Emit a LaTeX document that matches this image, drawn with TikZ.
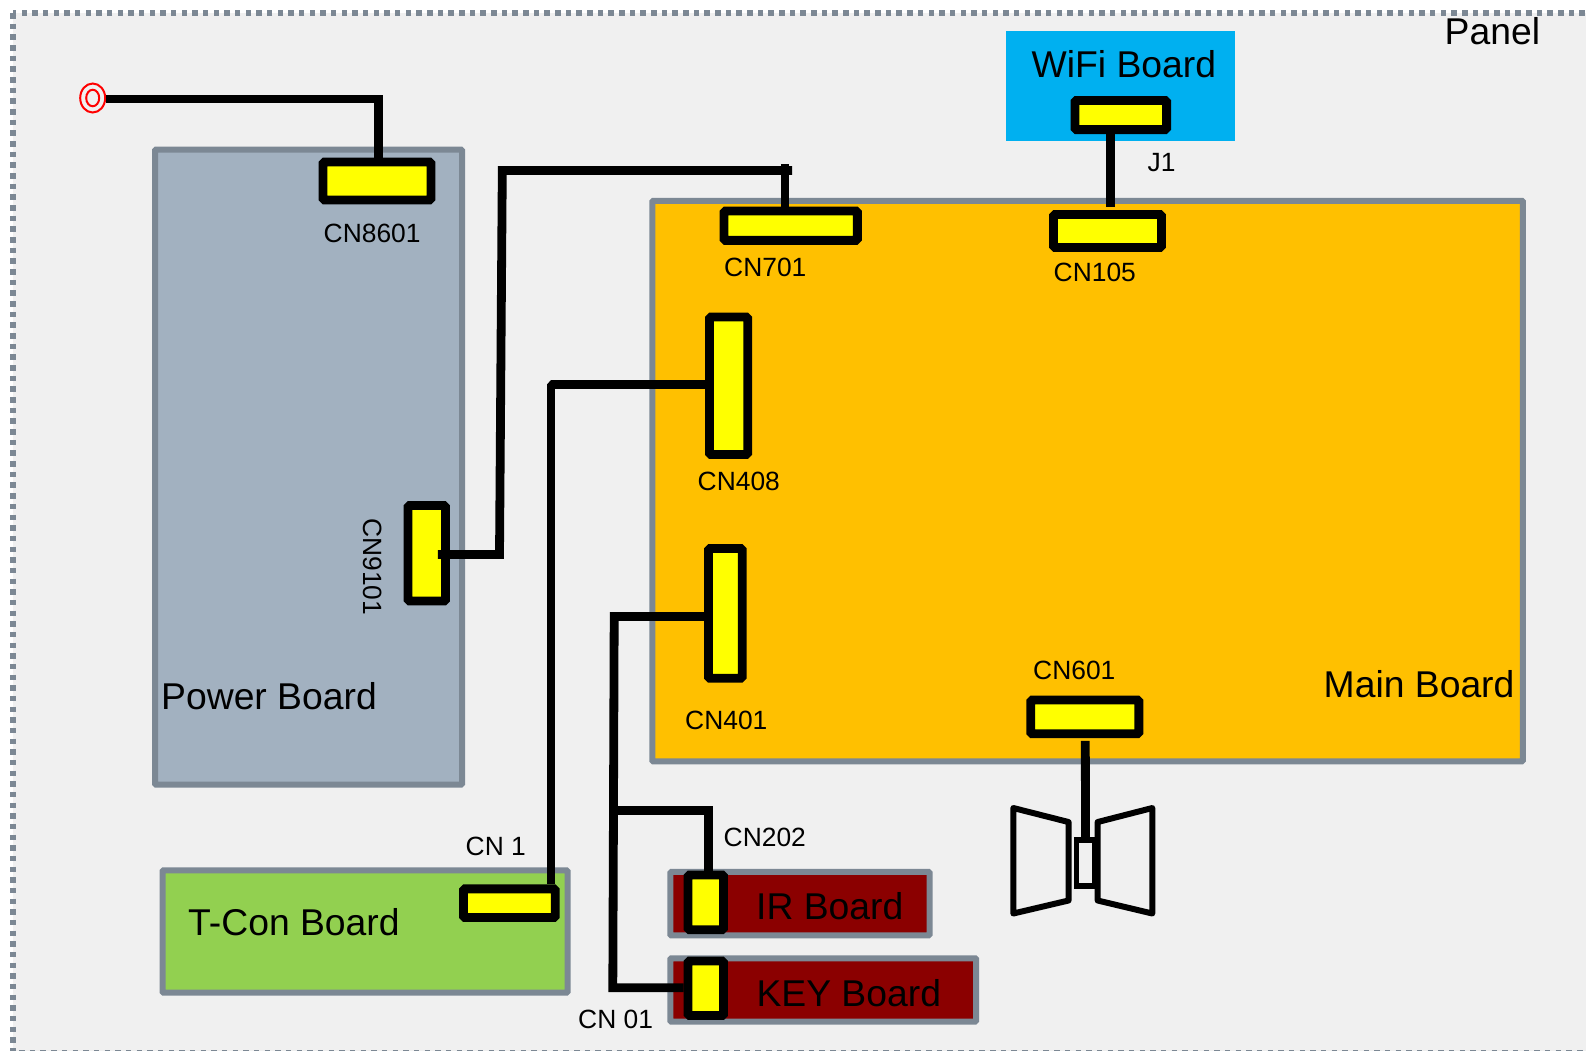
\documentclass[tikz,border=0pt]{standalone}
\usepackage{fontspec}
\setmainfont{Liberation Sans}
\usetikzlibrary{shapes.geometric}
\definecolor{panelbg}{HTML}{F0F0F0}
\definecolor{edgegray}{HTML}{7C8894}
\definecolor{powerblue}{HTML}{A2B1C0}
\definecolor{mainorange}{HTML}{FFC000}
\definecolor{wifiblue}{HTML}{00B0F0}
\definecolor{tcongreen}{HTML}{92D050}
\definecolor{irred}{HTML}{8B0000}
\definecolor{connyellow}{HTML}{FFFF00}
\tikzset{
    board/.style={draw=edgegray, line width=6pt, rounded corners=1pt, inner sep=0pt},
    conn/.style={draw=black, fill=connyellow, line width=8.8pt, rounded corners=1.5pt, inner sep=0pt},
    wire/.style={draw=black, line width=8.8pt},
    biglabel/.style={font=\fontsize{37.3}{40}\selectfont, anchor=base west, inner sep=0pt},
    smalllabel/.style={font=\fontsize{26.4}{30}\selectfont, anchor=base west, inner sep=0pt},
    ring/.style={ellipse, draw=red, line width=2pt, inner sep=0pt},
    cone/.style={draw=black, line width=6pt, line join=round}
}
\begin{document}
\begin{tikzpicture}[x=1pt, y=-1pt]
    \useasboundingbox (0,0) rectangle (1586,1050);
    \clip (0,0) rectangle (1586,1050);

    % panel
    \draw[edgegray, fill=panelbg, line width=6pt, dash pattern=on 5.5pt off 5.17pt]
        (13,13) rectangle (1600,1052.5);
    \node[biglabel] (panel) at (1444.5,44) {Panel};

    % boards
    \node[board, fill=powerblue, minimum width=307pt, minimum height=635pt] (power) at (308.5,467) {};
    \node[board, fill=mainorange, minimum width=870.5pt, minimum height=560.7pt] (main) at (1087.5,481.1) {};
    \node[inner sep=0pt, fill=wifiblue, minimum width=229pt, minimum height=109.7pt] (wifi) at (1120.5,85.8) {};
    \node[board, fill=tcongreen, minimum width=405pt, minimum height=122.2pt] (tcon) at (365,931.4) {};
    \node[board, fill=irred, minimum width=259.2pt, minimum height=63.5pt] (ir) at (799.9,903.7) {};
    \node[board, fill=irred, minimum width=305.9pt, minimum height=63.2pt] (key) at (823.2,989.9) {};

    \node[biglabel] (powerlabel) at (161,709) {Power Board};
    \node[biglabel] (mainlabel) at (1323.5,697.5) {Main Board};
    \node[biglabel] (wifilabel) at (1031.5,77.5) {WiFi Board};
    \node[biglabel] (tconlabel) at (188,935) {T-Con Board};
    \node[biglabel] (irlabel) at (756,919) {IR Board};
    \node[biglabel] (keylabel) at (756.3,1006) {KEY Board};

    % connectors
    \node[conn, minimum width=108pt, minimum height=38pt] (cn8601) at (377,181) {};
    \node[conn, minimum width=37.5pt, minimum height=95.5pt] (cn9101) at (426.8,553.3) {};
    \node[conn, minimum width=133.3pt, minimum height=29.3pt] (cn701) at (790.7,225.7) {};
    \node[conn, minimum width=108pt, minimum height=33pt] (cn105) at (1107.5,231) {};
    \node[conn, minimum width=91.6pt, minimum height=29.2pt] (j1) at (1120.8,115) {};
    \node[conn, minimum width=38.2pt, minimum height=137.5pt] (cn408) at (728.6,385.8) {};
    \node[conn, minimum width=33.7pt, minimum height=129.8pt] (cn401) at (725.3,613.4) {};
    \node[conn, minimum width=108.1pt, minimum height=33.8pt] (cn601) at (1084.8,716.9) {};
    \node[conn, minimum width=91.8pt, minimum height=28.7pt] (cn1) at (509.4,903.2) {};
    \node[conn, minimum width=35.5pt, minimum height=54.7pt] (cn202) at (705.8,902.3) {};
    \node[conn, minimum width=35.5pt, minimum height=54.5pt] (cn01) at (705.8,988.3) {};

    \node[smalllabel] (cn8601label) at (323.5,242.2) {CN8601};
    \node[smalllabel, rotate=-90] (cn9101label) at (363,518) {CN9101};
    \node[smalllabel] (cn701label) at (724,276.7) {CN701};
    \node[smalllabel] (cn105label) at (1053.5,281) {CN105};
    \node[smalllabel] (j1label) at (1147.5,171.7) {J1};
    \node[smalllabel] (cn408label) at (697.5,490.5) {CN408};
    \node[smalllabel] (cn401label) at (685,729) {CN401};
    \node[smalllabel] (cn601label) at (1033,679) {CN601};
    \node[smalllabel] (cn1label) at (465.5,855.7) {CN 1};
    \node[smalllabel] (cn202label) at (723.5,846) {CN202};
    \node[smalllabel] (cn01label) at (578,1028) {CN 01};

    % antenna
    \node[ring, minimum width=25pt, minimum height=29pt] (antenna) at (92.7,98) {};
    \node[ring, minimum width=13pt, minimum height=16.5pt] (antennacore) at (92.7,98) {};

    % speaker
    \node[draw=black, line width=5.2pt, inner sep=0pt, minimum width=18.4pt, minimum height=46pt] (magnet) at (1085.5,863) {};
    \draw[cone] (1013.3,808) -- (1068.5,822) -- (1068.5,900.5) -- (1013.3,913.5) -- cycle;
    \draw[cone] (1152.3,808) -- (1097.7,822) -- (1097.7,900.5) -- (1152.3,913.5) -- cycle;

    % wires
    \coordinate (powerbendlow) at (499.5,554.5);
    \coordinate (powerbendtop) at (502.3,170.5);
    \coordinate (powerstub) at (792,170.5);
    \coordinate (powerdrop) at (785,164);
    \coordinate (tconbend) at (551,384.5);
    \coordinate (keytop) at (614.2,616.5);
    \coordinate (keybottom) at (612.8,987.8);
    \coordinate (irjunction) at (610,810.5);
    \coordinate (irdrop) at (708.2,806);

    \draw[wire] ([yshift=-1pt]antenna.east) -| ([xshift=1.7pt]cn8601.north);
    \draw[wire] ([xshift=-12pt,yshift=-1.2pt]cn9101.east) -- (powerbendlow) -- (powerbendtop) -- (powerstub);
    \draw[wire] (powerdrop) -- (powerdrop |- cn701.north);
    \draw[wire, line join=bevel] ([yshift=1.3pt]cn408.west) -- (tconbend) -- ([xshift=41.6pt]cn1.north);
    \draw[wire] ([yshift=-3.1pt]cn401.west) -- (keytop) -- (keybottom) -- ([yshift=0.5pt]cn01.west);
    \draw[wire] (irjunction) -- (irjunction -| irdrop);
    \draw[wire] (irdrop) -- (irdrop |- cn202.north);
    \draw[wire] ([xshift=-10.3pt,yshift=9pt]j1.south) -- ([xshift=3pt,yshift=3pt]cn105.north);
    \draw[wire] ([xshift=0.5pt,yshift=-2.6pt]cn601.south) -- (magnet.north);
\end{tikzpicture}
\end{document}
